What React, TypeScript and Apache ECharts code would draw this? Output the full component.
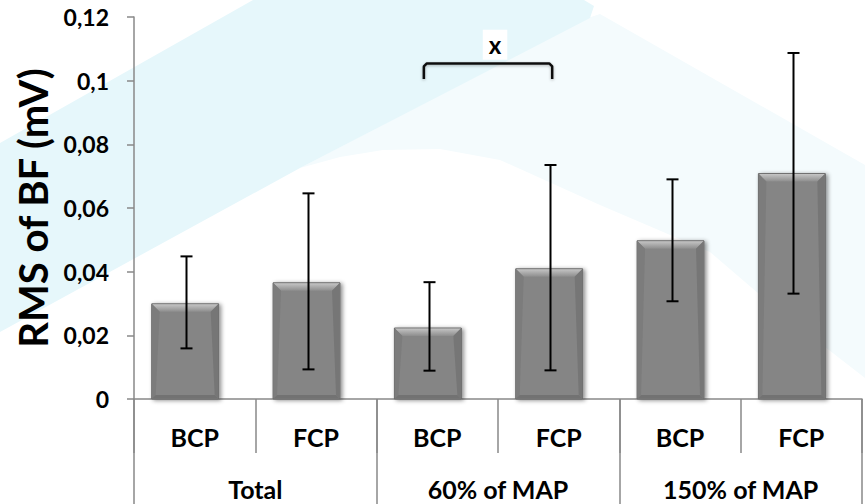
import React, { useEffect, useRef } from "react";
import * as echarts from "echarts";

const subCategories = ["BCP", "FCP", "BCP", "FCP", "BCP", "FCP"];
const groupCategories = ["Total", "60% of MAP", "150% of MAP"];
const meanValues = [0.0299, 0.0365, 0.0223, 0.0409, 0.0497, 0.0708];
const lowerValues = [0.0159, 0.0093, 0.0089, 0.009, 0.0307, 0.0331];
const upperValues = [0.0448, 0.0646, 0.0367, 0.0735, 0.069, 0.1087];
const yTicks = [0, 0.02, 0.04, 0.06, 0.08, 0.1, 0.12];
// bracket: [from category, to category, top value, leg value, label value]
const bracketData = [[2, 3, 0.1054, 0.1005, 0.1113]];
const bracketLabel = "x";

const FONT = "Lato, 'Open Sans', sans-serif";
const BAR_W = 0.552;
const BAR_SHIFT = -0.078;

export default function App() {
  const ref = useRef<HTMLDivElement>(null);
  useEffect(() => {
    if (!ref.current) return;
    const chart = echarts.init(ref.current, undefined, { renderer: "svg" });

    const renderBar = (params: any, api: any) => {
      const idx = api.value(0);
      const val = api.value(1);
      const p0 = api.coord([idx, 0]);
      const p1 = api.coord([idx, val]);
      const cw = api.size([1, 0])[0];
      const w = cw * BAR_W;
      const cx = p0[0] + cw * BAR_SHIFT;
      const x = cx - w / 2;
      const y = p1[1];
      const h = p0[1] - p1[1];
      const b = 8;
      const s = 4;
      return {
        type: "group",
        children: [
          {
            type: "rect",
            shape: { x, y, width: w, height: h },
            style: {
              fill: "#858585",
              stroke: "#6b6b6b",
              lineWidth: 1,
              shadowBlur: 4,
              shadowColor: "rgba(0,0,0,0.45)",
              shadowOffsetX: 2,
              shadowOffsetY: 1,
            },
          },
          {
            type: "polygon",
            shape: { points: [[x + 0.5, y + 0.5], [x + w - 0.5, y + 0.5], [x + w - b, y + b], [x + b, y + b]] },
            style: {
              fill: new echarts.graphic.LinearGradient(0, 0, 0, 1, [
                { offset: 0, color: "#c4c4c4" },
                { offset: 1, color: "#8d8d8d" },
              ]),
            },
          },
          {
            type: "polygon",
            shape: { points: [[x + 0.5, y + 0.5], [x + b, y + b], [x + s, y + h - s], [x + 0.5, y + h - 0.5]] },
            style: { fill: "#7c7c7c" },
          },
          {
            type: "polygon",
            shape: { points: [[x + w - 0.5, y + 0.5], [x + w - b, y + b], [x + w - s, y + h - s], [x + w - 0.5, y + h - 0.5]] },
            style: { fill: "#767676" },
          },
          {
            type: "polygon",
            shape: { points: [[x + 0.5, y + h - 0.5], [x + s, y + h - s], [x + w - s, y + h - s], [x + w - 0.5, y + h - 0.5]] },
            style: { fill: "#727272" },
          },
        ],
      };
    };

    const renderErr = (params: any, api: any) => {
      const idx = api.value(0);
      const lo = api.coord([idx, api.value(1)]);
      const hi = api.coord([idx, api.value(2)]);
      const cw = api.size([1, 0])[0];
      const x = Math.round(lo[0] + cw * BAR_SHIFT + 1) + 0.5;
      const cap = 6;
      const st = { stroke: "#000", lineWidth: 2 };
      return {
        type: "group",
        children: [
          { type: "line", shape: { x1: x, y1: lo[1], x2: x, y2: hi[1] }, style: st },
          { type: "line", shape: { x1: x - cap, y1: lo[1], x2: x + cap, y2: lo[1] }, style: st },
          { type: "line", shape: { x1: x - cap, y1: hi[1], x2: x + cap, y2: hi[1] }, style: st },
        ],
      };
    };

    const renderBracket = (params: any, api: any) => {
      const a = api.value(0);
      const c = api.value(1);
      const cw = api.size([1, 0])[0];
      const pa = api.coord([a, api.value(2)]);
      const pc = api.coord([c, api.value(2)]);
      const leg = api.coord([a, api.value(3)]);
      const lab = api.coord([a, api.value(4)]);
      const xl = pa[0] + cw * BAR_SHIFT - 4;
      const xr = pc[0] + cw * BAR_SHIFT + 3;
      const yt = pa[1];
      const yb = leg[1];
      return {
        type: "group",
        children: [
          {
            type: "polyline",
            shape: { points: [[xl, yb], [xl, yt + 3], [xl + 3, yt], [xr - 3, yt], [xr, yt + 3], [xr, yb]] },
            style: {
              stroke: "#111",
              lineWidth: 2.5,
              fill: "none",
              lineJoin: "round",
              shadowBlur: 3,
              shadowColor: "rgba(0,0,0,0.3)",
              shadowOffsetY: 1,
            },
          },
          {
            type: "text",
            x: (xl + xr) / 2 + 7,
            y: lab[1],
            style: {
              text: bracketLabel,
              fontFamily: FONT,
              fontSize: 24,
              fontWeight: "bold",
              fill: "#000",
              align: "center",
              verticalAlign: "middle",
              backgroundColor: "#fff",
              padding: [2, 6, 4, 6],
            },
          },
        ],
      };
    };

    const option: any = {
      animation: false,
      backgroundColor: "#ffffff",
      graphic: [
        {
          type: "polygon",
          z: -10,
          silent: true,
          shape: {
            points: [[300, 168], [588, 18], [600, 14], [865, 165], [865, 378], [780, 312], [710, 252], [600, 205], [500, 160], [440, 149], [383, 150], [340, 157]],
          },
          style: { fill: "#f4fbfd" },
        },
        {
          type: "polygon",
          z: -9,
          silent: true,
          shape: {
            points: [[0, 143], [253, 0], [584, 0], [594, 6], [590, 18], [300, 168], [0, 332]],
          },
          style: { fill: "#e6f7fb" },
        },
      ],
      grid: { left: 134, right: 3, top: 17, bottom: 105, containLabel: false },
      xAxis: [
        {
          type: "category",
          data: subCategories,
          position: "bottom",
          axisLine: { show: true, lineStyle: { color: "#888888", width: 1.5 } },
          axisTick: { show: true, interval: 0, length: 54, lineStyle: { color: "#888888", width: 1.5 } },
          axisLabel: {
            interval: 0,
            margin: 25,
            fontFamily: FONT,
            fontSize: 25,
            fontWeight: "bold",
            color: "#000",
            lineHeight: 25,
          },
        },
        {
          type: "category",
          data: groupCategories,
          position: "bottom",
          axisLine: { show: false },
          axisTick: { show: true, interval: 0, length: 105, lineStyle: { color: "#888888", width: 1.5 } },
          axisLabel: {
            interval: 0,
            margin: 77,
            fontFamily: FONT,
            fontSize: 25,
            fontWeight: "bold",
            color: "#000",
            lineHeight: 25,
          },
        },
      ],
      yAxis: {
        type: "value",
        min: yTicks[0],
        max: yTicks[yTicks.length - 1],
        interval: 0.02,
        name: "RMS of BF (mV)",
        nameLocation: "middle",
        nameGap: 78,
        nameTextStyle: { fontFamily: FONT, fontSize: 40, fontWeight: "bold", color: "#000" },
        axisLine: { show: true, lineStyle: { color: "#888888", width: 1.5 } },
        axisTick: { show: true, length: 7, lineStyle: { color: "#888888", width: 1.5 } },
        splitLine: { show: false },
        axisLabel: {
          margin: 25,
          fontFamily: FONT,
          fontSize: 23,
          fontWeight: "bold",
          color: "#000",
          formatter: (v: number) => {
            const t = yTicks.find((k) => Math.abs(k - v) < 1e-9);
            const n = t === undefined ? v : t;
            return String(parseFloat(n.toFixed(4))).replace(".", ",");
          },
        },
      },
      series: [
        {
          type: "custom",
          xAxisIndex: 0,
          renderItem: renderBar,
          data: meanValues.map((v, i) => [i, v]),
          encode: { x: 0, y: 1 },
          z: 2,
        },
        {
          type: "custom",
          xAxisIndex: 0,
          renderItem: renderErr,
          data: lowerValues.map((v, i) => [i, v, upperValues[i]]),
          encode: { x: 0, y: [1, 2] },
          z: 3,
        },
        {
          type: "custom",
          xAxisIndex: 0,
          renderItem: renderBracket,
          data: bracketData,
          encode: { x: [0, 1], y: [2, 3, 4] },
          z: 4,
        },
      ],
    };
    chart.setOption(option);
    return () => chart.dispose();
  }, []);
  return (
    <div
      ref={ref}
      style={{ position: "fixed", left: 0, top: 0, width: 865, height: 504, background: "#fff" }}
    />
  );
}
